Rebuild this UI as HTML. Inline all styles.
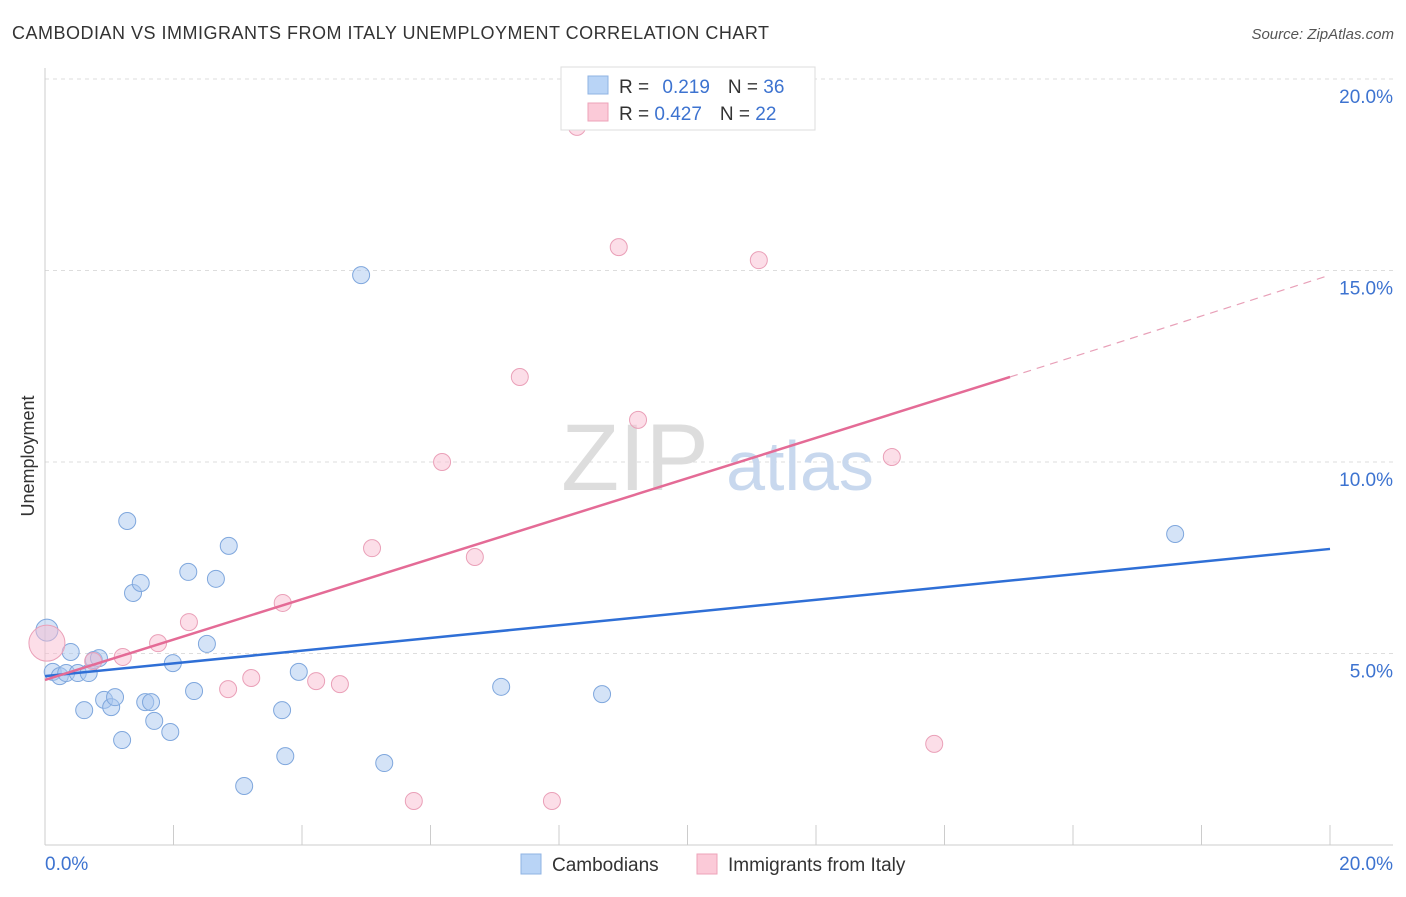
<!DOCTYPE html>
<html><head><meta charset="utf-8"><style>
body{margin:0;background:#fff;font-family:"Liberation Sans",sans-serif;}
svg text{font-family:"Liberation Sans",sans-serif;}
</style></head><body>
<svg width="1406" height="892" xmlns="http://www.w3.org/2000/svg">
<text x="12" y="39" font-size="18" fill="#333" textLength="757">CAMBODIAN VS IMMIGRANTS FROM ITALY UNEMPLOYMENT CORRELATION CHART</text>
<text x="1394" y="39" font-size="15" fill="#555" font-style="italic" text-anchor="end">Source: ZipAtlas.com</text>
<g id="grid"></g>
<g>
<text x="635" y="490" font-size="95" fill="#ddd" text-anchor="middle" font-family="Liberation Serif">ZIP</text>
<text x="800" y="490" font-size="70" fill="#c8d8ee" text-anchor="middle">atlas</text>
</g>
<text transform="translate(34,456) rotate(-90)" font-size="18" fill="#333" text-anchor="middle">Unemployment</text>
<g id="marks"></g>
<g>
<rect x="561" y="67" width="254" height="63" fill="#fff" stroke="#ddd"/>
<rect x="588" y="76" width="20" height="18" fill="#b9d4f6" stroke="#8fb3e3"/>
<rect x="588" y="103" width="20" height="18" fill="#fbcad8" stroke="#eea3b9"/>
<text x="619" y="93" font-size="19" fill="#333">R = <tspan fill="#3d73d0" dx="8">0.219</tspan><tspan dx="18" fill="#333">N = </tspan><tspan fill="#3d73d0">36</tspan></text>
<text x="619" y="120" font-size="19" fill="#333">R = <tspan fill="#3d73d0">0.427</tspan><tspan dx="18" fill="#333">N = </tspan><tspan fill="#3d73d0">22</tspan></text>
</g>
<g>
<rect x="521" y="854" width="20" height="20" fill="#b9d4f6" stroke="#8fb3e3"/>
<text x="552" y="871" font-size="19" fill="#333">Cambodians</text>
<rect x="697" y="854" width="20" height="20" fill="#fbcad8" stroke="#eea3b9"/>
<text x="728" y="871" font-size="19" fill="#333">Immigrants from Italy</text>
</g>
</svg>
<script>
const yTicks=[5,10,15,20];
const yTickLabels=["5.0%","10.0%","15.0%","20.0%"];
const xTicks=[0,2,4,6,8,10,12,14,16,18,20];
const blueX=[0.03,0.12,0.23,0.33,0.40,0.51,0.61,0.68,0.76,0.84,0.92,1.03,1.09,1.20,1.28,1.37,1.49,1.56,1.65,1.70,1.95,1.99,2.23,2.32,2.52,2.66,2.86,3.10,3.69,3.74,3.95,4.92,5.28,7.10,8.67,17.59];
const blueY=[5.61,4.52,4.41,4.49,5.04,4.49,3.52,4.49,4.83,4.88,3.79,3.60,3.86,2.74,8.46,6.58,6.84,3.73,3.73,3.24,2.95,4.75,7.13,4.02,5.25,6.95,7.81,1.54,3.52,2.32,4.52,14.88,2.14,4.13,3.94,8.12];
const pinkX=[0.03,0.75,1.21,1.76,2.24,2.85,3.21,3.70,4.22,4.59,5.09,5.74,6.18,6.69,7.39,7.89,8.28,8.93,9.23,11.11,13.18,13.84];
const pinkY=[5.27,4.80,4.91,5.27,5.82,4.07,4.36,6.32,4.28,4.20,7.75,1.15,10.0,7.52,12.22,1.15,18.75,15.61,11.10,15.27,10.13,2.64];
const blueLine=[[0,4.41],[20,7.73]];
const pinkLine=[[0,4.31],[15.02,12.22]];
const pinkDash=[[15.02,12.22],[20,14.88]];
const X=v=>45+v/20*1285, Y=v=>845-v/5*191.5;
const NS="http://www.w3.org/2000/svg";
function mk(p,t,a){const e=document.createElementNS(NS,t);for(const k in a)e.setAttribute(k,a[k]);p.appendChild(e);return e;}
const g=document.getElementById('grid'), m=document.getElementById('marks');
yTicks.forEach((t,i)=>{
 const l=mk(g,'line',{x1:45,x2:1393,y1:Y(t),y2:Y(t),stroke:'#ddd','stroke-dasharray':'4,4'});
 
 
 const tx=mk(g,'text',{x:1393,y:Y(t)+24,'font-size':19,fill:'#3d73d0','text-anchor':'end'});
 tx.textContent=yTickLabels[i];
 
 
});
const ax=mk(g,'line',{x1:45,x2:1393,y1:845,y2:845,stroke:'#ccc'});


const ay=mk(g,'line',{x1:45,x2:45,y1:68,y2:845,stroke:'#ccc'});


xTicks.forEach(t=>{const l=mk(g,'line',{x1:X(t),x2:X(t),y1:825,y2:845,stroke:'#ccc'});
 
 });
const x0=mk(g,'text',{x:45,y:870,'font-size':19,fill:'#3d73d0'});x0.textContent='0.0%';


const x1=mk(g,'text',{x:1393,y:870,'font-size':19,fill:'#3d73d0','text-anchor':'end'});x1.textContent='20.0%';


blueX.forEach((v,i)=>{const c=mk(m,'circle',{cx:X(v),cy:Y(blueY[i]),r:i==0?11:8.5,fill:'rgba(170,200,240,0.5)',stroke:'#7fa7dd','stroke-width':1});
 
 });
pinkX.forEach((v,i)=>{const c=mk(m,'circle',{cx:X(v),cy:Y(pinkY[i]),r:i==0?18:8.5,fill:'rgba(250,190,210,0.5)',stroke:'#eaa0b8','stroke-width':1});
 
 });
const bl=mk(m,'line',{x1:X(blueLine[0][0]),y1:Y(blueLine[0][1]),x2:X(blueLine[1][0]),y2:Y(blueLine[1][1]),stroke:'#2f6fd6','stroke-width':2.5});


const pl=mk(m,'line',{x1:X(pinkLine[0][0]),y1:Y(pinkLine[0][1]),x2:X(pinkLine[1][0]),y2:Y(pinkLine[1][1]),stroke:'#e46b96','stroke-width':2.5});


const pd=mk(m,'line',{x1:X(pinkDash[0][0]),y1:Y(pinkDash[0][1]),x2:X(pinkDash[1][0]),y2:Y(pinkDash[1][1]),stroke:'#e8a0b8','stroke-width':1.2,'stroke-dasharray':'8,6'});


</script>
</body></html>
